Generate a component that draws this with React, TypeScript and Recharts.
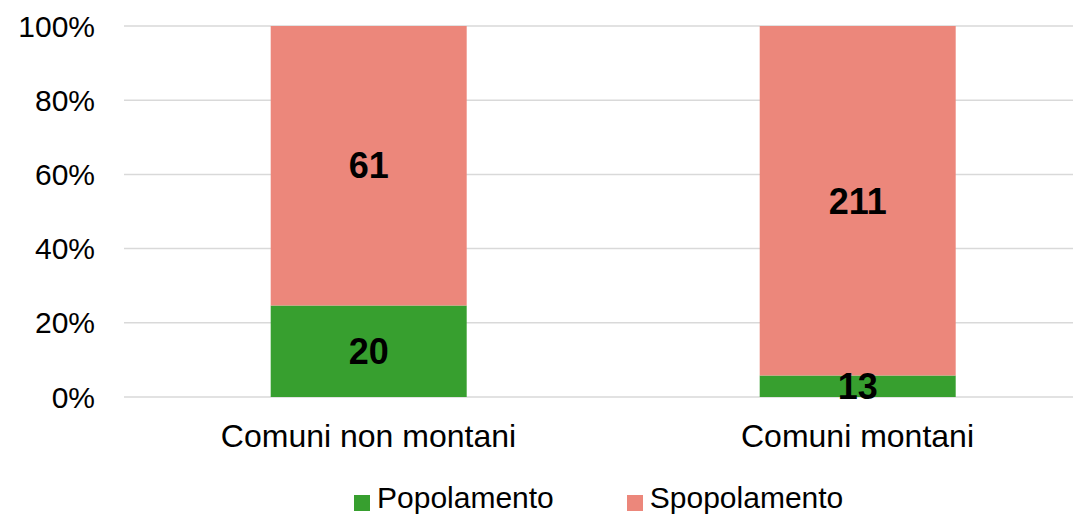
import { BarChart, Bar, XAxis, YAxis, CartesianGrid, Legend, LabelList } from 'recharts';

const categories = ['Comuni non montani', 'Comuni montani'];
const popolamento = [20, 13];
const spopolamento = [61, 211];
const yTicks = [0, 0.2, 0.4, 0.6, 0.8, 1];

const GREEN = '#379F2F';
const SALMON = '#EC877B';

const data = categories.map((name, i) => ({
  name,
  pop: popolamento[i],
  spop: spopolamento[i],
}));

function LegendContent({ payload }: any) {
  return (
    <div style={{ height: 40, display: 'flex', paddingLeft: 354, boxSizing: 'border-box' }}>
      {(payload || []).map((item: any, i: number) => (
        <div
          key={`legend-${i}`}
          style={{ display: 'flex', alignItems: 'center', marginRight: 73, paddingTop: 9, height: 30 }}
        >
          <span
            style={{
              display: 'inline-block',
              width: 16,
              height: 16,
              background: item.color,
              marginRight: 7,
              marginTop: 9,
            }}
          />
          <span style={{ fontSize: 30, lineHeight: '30px', color: '#000' }}>{item.value}</span>
        </div>
      ))}
    </div>
  );
}

export default function App() {
  return (
    <div
      style={{
        marginLeft: -8,
        marginTop: -8,
        width: 1081,
        height: 514,
        overflow: 'hidden',
        background: '#fff',
        fontFamily: '"Liberation Sans", Arial, sans-serif',
      }}
    >
      <BarChart
        width={1110}
        height={514}
        data={data}
        stackOffset="expand"
        barCategoryGap="30%"
        margin={{ top: 26, right: 8, left: 0, bottom: 0 }}
      >
        <CartesianGrid vertical={false} stroke="#d9d9d9" strokeWidth={1.5} />
        <XAxis
          dataKey="name"
          axisLine={false}
          tickLine={false}
          tickSize={0}
          tickMargin={27}
          height={77}
          tick={{ fontSize: 32, fill: '#000' }}
        />
        <YAxis
          width={124}
          domain={[0, 1]}
          ticks={yTicks}
          axisLine={false}
          tickLine={false}
          tickSize={0}
          tickMargin={29}
          tickFormatter={(v: number) => `${Math.round(v * 100)}%`}
          tick={{ fontSize: 30, fill: '#000' }}
        />
        <Legend verticalAlign="bottom" content={<LegendContent />} />
        <Bar dataKey="pop" name="Popolamento" stackId="a" fill={GREEN} isAnimationActive={false}>
          <LabelList dataKey="pop" position="center" fill="#000" fontSize={36} fontWeight="bold" />
        </Bar>
        <Bar dataKey="spop" name="Spopolamento" stackId="a" fill={SALMON} isAnimationActive={false}>
          <LabelList dataKey="spop" position="center" fill="#000" fontSize={36} fontWeight="bold" />
        </Bar>
      </BarChart>
    </div>
  );
}
